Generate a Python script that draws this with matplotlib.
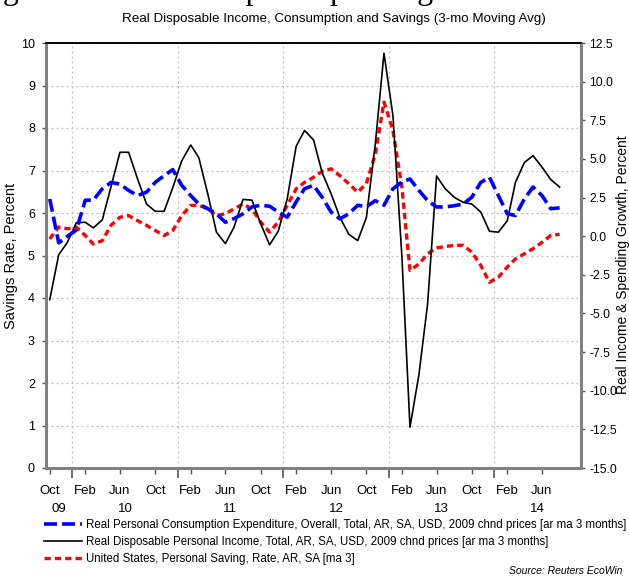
import numpy as np
import pandas as pd
import matplotlib
matplotlib.use('Agg')
import matplotlib.pyplot as plt
import matplotlib.dates as mdates
from matplotlib.ticker import FixedLocator, FormatStrFormatter, NullFormatter

plt.rcParams['font.family'] = ['Liberation Sans', 'DejaVu Sans']

# ---------------- data (monthly, Oct 2009 - Aug 2014) ----------------
months = pd.period_range('2009-10', '2014-08', freq='M')

# Real Personal Consumption Expenditure growth, % (right axis)
consumption = [2.41, -0.43, -0.01, 0.40, 2.33, 2.33, 3.07, 3.48, 3.37, 2.96,
               2.63, 2.85, 3.48, 3.92, 4.31, 3.29, 2.63, 2.08, 1.78, 1.45,
               0.90, 1.14, 1.45, 1.89, 2.00, 1.94, 1.56, 1.23, 2.22, 3.07,
               3.29, 2.52, 1.56, 1.12, 1.45, 2.00, 1.91, 2.30, 2.00, 3.07,
               3.51, 3.70, 2.96, 2.30, 1.89, 1.89, 1.97, 2.08, 2.52, 3.48,
               3.81, 2.63, 1.45, 1.34, 2.41, 3.18, 2.63, 1.78, 1.83]

# Real Disposable Personal Income growth, % (right axis)
income = [-4.11, -1.20, -0.40, 0.87, 0.90, 0.54, 1.06, 3.20, 5.43, 5.43,
          3.70, 2.08, 1.61, 1.61, 3.15, 4.88, 5.90, 5.08, 2.74, 0.26,
          -0.48, 0.59, 2.38, 2.33, 0.81, -0.56, 0.32, 2.41, 5.82, 6.84,
          6.23, 4.11, 2.74, 1.23, 0.13, -0.29, 1.20, 5.98, 11.84, 7.80,
          -1.30, -12.36, -8.95, -4.38, 3.89, 3.07, 2.52, 2.19, 2.08, 1.56,
          0.32, 0.26, 1.00, 3.48, 4.77, 5.21, 4.47, 3.67, 3.18]

# Personal Saving Rate, % (left axis)
saving = [5.39, 5.67, 5.63, 5.67, 5.47, 5.27, 5.35, 5.71, 5.90, 5.94,
          5.82, 5.71, 5.59, 5.47, 5.59, 5.94, 6.18, 6.18, 6.10, 5.94,
          5.98, 6.10, 6.21, 6.10, 5.79, 5.55, 5.79, 6.18, 6.57, 6.72,
          6.84, 6.98, 7.04, 6.88, 6.69, 6.49, 6.69, 7.39, 8.61, 7.94,
          6.61, 4.65, 4.80, 5.04, 5.18, 5.21, 5.24, 5.24, 5.08, 4.77,
          4.37, 4.49, 4.73, 4.92, 5.04, 5.16, 5.31, 5.47, 5.50]

labels = [
    'Real Personal Consumption Expenditure, Overall, Total, AR, SA, USD, 2009 chnd prices [ar ma 3 months]',
    'Real Disposable Personal Income, Total, AR, SA, USD, 2009 chnd prices [ar ma 3 months]',
    'United States, Personal Saving, Rate, AR, SA [ma 3]',
]
left_ticks = list(range(0, 11))
right_ticks = [12.5, 10.0, 7.5, 5.0, 2.5, 0.0, -2.5, -5.0, -7.5, -10.0, -12.5, -15.0]
year_labels = ['09', '10', '11', '12', '13', '14']
labelled_months = [10, 2, 6]   # Oct, Feb, Jun

# ---------------- figure ----------------
W, H = 629, 577
fig = plt.figure(figsize=(W / 100, H / 100), dpi=100)
L, R, T, B = 46, 581, 43, 468
ax = fig.add_axes([L / W, 1 - B / H, (R - L) / W, (B - T) / H])
ax2 = ax.twinx()

x = months.to_timestamp() + pd.Timedelta(days=14)
xmin, xmax = pd.Timestamp('2009-10-02'), pd.Timestamp('2014-10-28')

BLUE, RED = '#0000ff', '#ff0000'
l_sav, = ax.plot(x, saving, color=RED, lw=2.4, dashes=(1.9, 1.2), zorder=3,
                 label=labels[2])
l_inc, = ax2.plot(x, income, color='black', lw=1.2, zorder=3, label=labels[1])
l_con, = ax2.plot(x, consumption, color=BLUE, lw=2.6, dashes=(3.6, 1.4),
                  zorder=4, label=labels[0])

ax.set_xlim(xmin, xmax)
ax.set_ylim(0, 10)
ax2.set_ylim(-15, 12.5)

# x ticks: year boundaries (long, unlabelled) and Oct/Feb/Jun mid-month (labelled)
ax.xaxis.set_major_locator(mdates.YearLocator())
ax.xaxis.set_major_formatter(NullFormatter())
lab_pos = [xi for xi, m in zip(x, months) if m.month in labelled_months]
ax.xaxis.set_minor_locator(FixedLocator(mdates.date2num(lab_pos)))
ax.xaxis.set_minor_formatter(mdates.DateFormatter('%b'))
ax.tick_params(axis='x', which='major', length=7, width=1.2, color='#555555')
ax.tick_params(axis='x', which='minor', length=4, width=1.0, color='#555555',
               pad=8, labelsize=9.5)

# year labels
for yl in year_labels:
    yr = 2000 + int(yl)
    a = max(pd.Timestamp(f'{yr}-01-01'), xmin)
    b = min(pd.Timestamp(f'{yr + 1}-01-01'), xmax)
    c = a + (b - a) / 2
    ax.annotate(yl, xy=(mdates.date2num(c), 0), xycoords=('data', 'axes fraction'),
                xytext=(0, -41), textcoords='offset pixels', ha='center',
                va='center', fontsize=9.5)

# y ticks
ax.yaxis.set_major_locator(FixedLocator(left_ticks))
ax.tick_params(axis='y', which='major', length=3, width=1, pad=5, labelsize=9,
               color='#555555')
ax2.yaxis.set_major_locator(FixedLocator(right_ticks))
ax2.yaxis.set_major_formatter(FormatStrFormatter('%.1f'))
ax2.tick_params(axis='y', which='major', length=3, width=1, pad=3, labelsize=8.8,
                color='#555555')

ax.grid(True, which='major', color='#bdbdbd', linestyle=(0, (1.5, 2.5)), lw=0.9)

for a_ in (ax, ax2):
    for s in ('left', 'right', 'bottom'):
        a_.spines[s].set_color('#808080')
        a_.spines[s].set_linewidth(2)
    a_.spines['top'].set_color('black')
    a_.spines['top'].set_linewidth(1.2)

ax.set_ylabel('Savings Rate, Percent', fontsize=10.5)
ax.yaxis.set_label_coords((18 - L) / (R - L), 0.5)
ax2.set_ylabel('Real Income & Spending Growth, Percent', fontsize=10,
               rotation=90, va='center', ha='center')
ax2.yaxis.set_label_coords((622.5 - L) / (R - L), (B - 265) / (B - T))

# titles
fig.text(-70 / W, 1 + 0.5 / H, 'Savings and Income Outpace Spending Growth',
         family=['Liberation Serif', 'DejaVu Serif'], fontsize=23,
         ha='left', va='baseline')
fig.text(334 / W, 1 - 19 / H,
         'Real Disposable Income, Consumption and Savings (3-mo Moving Avg)',
         fontsize=9.6, ha='center', va='center')

# legend
fig.legend(handles=[l_con, l_inc, l_sav], loc='upper left',
           bbox_to_anchor=(44 / W, 1 - 519 / H), frameon=False,
           fontsize=8.3, handlelength=3.3, handletextpad=0.35,
           labelspacing=0.45, borderaxespad=0, borderpad=0)

fig.text(622 / W, 1 - 571 / H, 'Source: Reuters EcoWin', style='italic',
         fontsize=7.5, ha='right', va='center')

fig.savefig('out.png', dpi=100)
